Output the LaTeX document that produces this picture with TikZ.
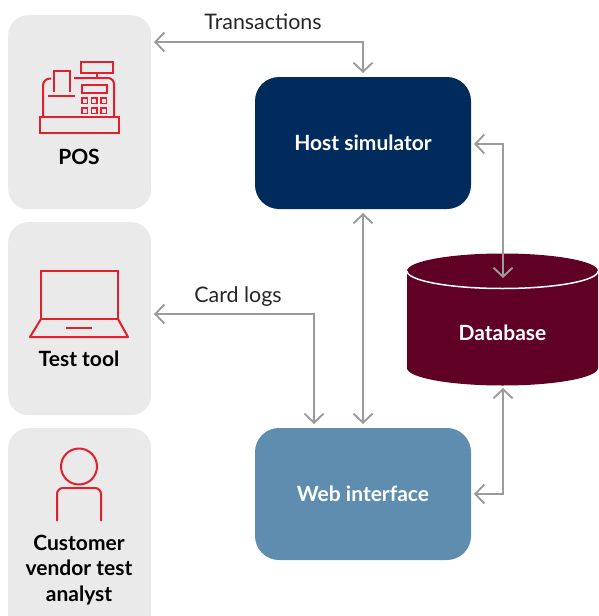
\documentclass[tikz,border=0pt]{standalone}
\usepackage{fontspec}
\setmainfont{Lato}
\usetikzlibrary{arrows.meta,calc}
\definecolor{panelgray}{HTML}{EAEAEA}
\definecolor{hostblue}{HTML}{002B5C}
\definecolor{webblue}{HTML}{5F8DB0}
\definecolor{dbred}{HTML}{600024}
\definecolor{iconred}{HTML}{E31E2D}
\definecolor{linegray}{HTML}{9B9B9B}
\tikzset{
  x=1pt,y=-1pt,
  panel/.style={fill=panelgray,draw=none,rounded corners=20,minimum width=143,inner sep=0,anchor=north west},
  mainbox/.style={draw=none,rounded corners=24,minimum width=216,minimum height=132,inner sep=0,text=white,font=\fontsize{21}{24}\selectfont\bfseries},
  panellabel/.style={inner sep=0,align=center,text=black,font=\fontsize{21}{25.5}\selectfont\bfseries},
  edgelabel/.style={inner sep=0,text=black!85,font=\fontsize{21.4}{23}\selectfont},
  conn/.style={draw=linegray,line width=1.9,{Straight Barb[length=9,width=19,line width=1.9]}-{Straight Barb[length=9,width=19,line width=1.9]}},
  icon/.style={draw=iconred,line width=2,fill=none},
}
\begin{document}
\begin{tikzpicture}
\useasboundingbox (0,0) rectangle (598,616);
% panels
\node[panel,minimum height=194] (pos) at (8,15) {};
\node[panel,minimum height=193] (tool) at (8,222) {};
\node[panel,minimum height=210] (analyst) at (8,428) {};
% POS icon
\draw[icon] (40,117) rectangle (119,133);
\draw[icon] (81,62) rectangle (113,73);
\draw[icon] (96.5,73) -- (96.5,78);
\draw[icon,rounded corners=6] (74,78) -- (114,78) -- (114,116);
\draw[icon,rounded corners=7] (43,116) -- (43,78.5) -- (51,78.5);
\draw[icon] (54,92) -- (54,70.5) -- (70,70.5) -- (70,92);
\draw[icon] (48,95.5) -- (75,95.5);
\draw[icon] (81.5,85) rectangle (106.5,93);
\foreach \bx in {82,91.5,101}{\foreach \by in {98,108}{
  \draw[icon,line width=1.6] (\bx,\by) rectangle ++(5.5,5.5);}}
% laptop icon
\draw[icon] (41,271) rectangle (118,319);
\draw[icon,line join=round] (41,319) -- (30,337) -- (128,337) -- (118,319);
\draw[icon] (66,327.5) -- (92,327.5);
% person icon
\draw[icon] (79,466.5) circle (18);
\draw[icon,rounded corners=6] (57,521) -- (57,488) -- (101,488) -- (101,521);
% panel labels
\node[panellabel] (poslabel) at (79,157) {POS};
\node[panellabel] (toollabel) at (79,359) {Test tool};
\node[panellabel] (analystlabel) at (79,570) {Customer\\vendor test\\analyst};
% main boxes
\node[mainbox,fill=hostblue] (host) at (363,143) {\raisebox{-2pt}{Host simulator}};
\node[mainbox,fill=webblue] (web) at (363,494) {\raisebox{-2pt}{Web interface}};
% database
\fill[dbred] (407,271) arc[start angle=180,end angle=360,x radius=95.5,y radius=17.5]
  -- (598,368) arc[start angle=0,end angle=180,x radius=95.5,y radius=17.5] -- cycle;
\draw[white,line width=1.5] (407,271) arc[start angle=180,end angle=360,x radius=95.5,y radius=-17.5];
\node[inner sep=0,minimum width=191,minimum height=133,text=white,font=\fontsize{21}{24}\selectfont\bfseries] (db) at (502.5,333) {Database};
% connector ends
\coordinate (posend) at (154,42);
\coordinate (hosttop) at (363,73);
\coordinate (toolend) at (154,314);
\coordinate (webtop) at (314,424);
\coordinate (hostbot) at (363,213);
\coordinate (webtopb) at (363,424);
\coordinate (hostside) at (474,144);
\coordinate (dbtop) at (503,278);
\coordinate (webside) at (474,494);
\coordinate (dbbot) at (503,388);
% connectors
\draw[conn] (posend) -| (hosttop);
\draw[conn] (toolend) -| (webtop);
\draw[conn] (hostbot) -- (webtopb);
\draw[conn] (hostside) -| (dbtop);
\draw[conn] (webside) -| (dbbot);
% edge labels
\node[edgelabel] (translabel) at (263,22) {Transactions};
\node[edgelabel] (cardlabel) at (238,296.5) {Card logs};
\end{tikzpicture}
\end{document}
